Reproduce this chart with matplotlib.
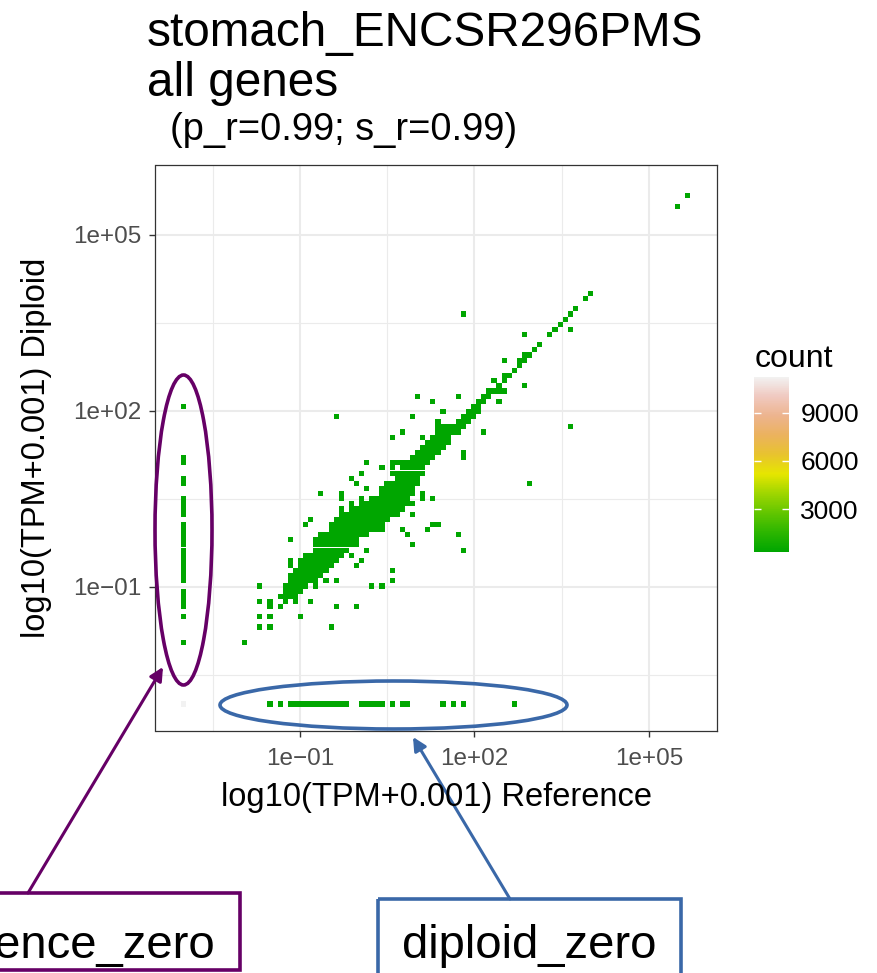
import matplotlib
matplotlib.use('Agg')
import matplotlib.pyplot as plt
import numpy as np
from matplotlib.colors import LinearSegmentedColormap, Normalize
from matplotlib.patches import Ellipse, Rectangle, FancyArrowPatch
from matplotlib.cm import ScalarMappable

plt.rcParams['font.family'] = ['Liberation Sans', 'DejaVu Sans']

# --- data: log10(TPM+0.001) (100 bins) ---
bin_width = 0.0875
zero_level = -3.0

both_zero_count = 11239
band_count = 60
zero_count = 4
single_count = 1

# reference == 0 (x = -3): runs of diploid values (start, end)
ref_zero_runs = [(-1.95, -1.95), (-1.51, -1.51), (-1.34, -1.08), (-0.90, 0.06),
                 (0.24, 0.50), (0.76, 0.85), (1.11, 1.20), (2.08, 2.08)]

# diploid == 0 (y = -3): runs of reference values (start, end)
dip_zero_runs = [(-1.51, -1.51), (-1.34, -1.34), (-1.16, -0.20), (0.06, 0.41),
                 (0.59, 0.59), (0.76, 0.85), (1.46, 1.46), (1.64, 1.64),
                 (1.81, 1.81), (2.69, 2.69)]

# dense diagonal band: (diploid, reference start, reference end)
band_rows = [
    (-1.16, -1.34, -1.08), (-1.08, -1.25, -0.99), (-0.99, -1.25, -0.90),
    (-0.90, -1.16, -0.73), (-0.81, -1.16, -0.64), (-0.73, -1.08, -0.55),
    (-0.64, -0.99, -0.46), (-0.55, -0.99, -0.38), (-0.46, -0.90, -0.29),
    (-0.38, -0.73, -0.20), (-0.29, -0.73, -0.03), (-0.20, -0.73, -0.03),
    (-0.11, -0.64, 0.15), (-0.03, -0.46, 0.41), (0.06, -0.46, 0.41),
    (0.15, -0.38, 0.50), (0.24, -0.20, 0.67), (0.33, -0.11, 0.76),
    (0.41, 0.06, 0.94), (0.50, 0.24, 0.85), (0.59, 0.41, 0.94),
    (0.67, 0.41, 0.94), (0.76, 0.50, 1.03), (0.85, 0.67, 1.03),
    (0.94, 0.67, 1.11), (1.03, 0.76, 1.11), (1.11, 0.59, 1.20),
    (1.20, 0.94, 1.29), (1.29, 1.03, 1.38), (1.38, 1.11, 1.46),
    (1.46, 1.20, 1.55), (1.55, 1.29, 1.55), (1.64, 1.38, 1.73),
    (1.73, 1.38, 1.81), (1.81, 1.73, 1.90), (1.90, 1.81, 1.99),
    (1.99, 1.90, 2.08), (2.08, 1.99, 2.08), (2.16, 2.08, 2.16),
    (2.25, 2.16, 2.25), (2.34, 2.25, 2.43), (2.43, 2.43, 2.43),
    (2.51, 2.51, 2.51), (2.60, 2.51, 2.60), (2.69, 2.69, 2.69),
    (2.78, 2.78, 2.78), (2.86, 2.78, 2.86), (2.95, 2.86, 2.95),
    (3.04, 3.04, 3.04), (3.13, 3.13, 3.13), (3.30, 3.30, 3.30),
    (3.39, 3.39, 3.39), (3.48, 3.48, 3.48), (3.56, 3.56, 3.56),
    (3.65, 3.65, 3.65), (3.74, 3.74, 3.74), (3.91, 3.91, 3.91),
    (4.00, 4.00, 4.00),
]

# scattered single cells
outlier_ref = [-1.95, -1.69, -1.51, -0.46, -1.69, -1.51, -0.99, -1.51, -1.34, -0.38,
               -0.03, -1.69, -1.51, -1.25, -1.08, -0.81, -1.69, -0.73, 0.24, 0.41,
               -0.55, -0.38, 0.59, 0.59, -1.16, -0.03, -1.16, 0.06, -0.11, 0.15,
               1.81, 0.94, -1.16, 0.85, 1.73, 0.76, 1.20, -0.90, 1.29, 1.38,
               -0.81, -0.29, 0.94, -0.29, -0.11, -0.29, 0.06, 1.11, 1.29, -0.64,
               -0.29, 1.11, 0.15, -0.03, 2.95, -0.11, 0.06, 0.59, 0.41, 0.59,
               0.15, 1.81, 1.81, 0.59, 1.11, 0.76, 2.16, 3.65, 1.38, -0.38,
               0.94, 1.46, 1.29, 2.43, 1.03, 1.73, 2.51, 2.86, 2.34, 2.51,
               2.86, 3.65, 1.81, 5.49, 5.66]
outlier_dip = [-1.95, -1.69, -1.69, -1.69, -1.51, -1.51, -1.51, -1.34, -1.34, -1.34,
               -1.34, -1.25, -1.25, -1.25, -1.25, -1.25, -0.99, -0.99, -0.99, -0.99,
               -0.90, -0.90, -0.90, -0.73, -0.64, -0.64, -0.55, -0.55, -0.46, -0.38,
               -0.38, -0.29, -0.20, -0.11, -0.11, -0.03, -0.03, 0.06, 0.06, 0.06,
               0.15, 0.24, 0.24, 0.33, 0.41, 0.50, 0.50, 0.50, 0.50, 0.59,
               0.59, 0.59, 0.67, 0.76, 0.76, 0.85, 0.94, 0.94, 1.03, 1.03,
               1.11, 1.20, 1.29, 1.55, 1.55, 1.64, 1.64, 1.73, 1.81, 1.90,
               1.90, 1.99, 2.16, 2.16, 2.25, 2.25, 2.34, 2.43, 2.51, 2.86,
               3.30, 3.39, 3.65, 5.49, 5.66]

major_breaks = [-1, 2, 5]
major_labels = ['1e\u221201', '1e+02', '1e+05']
minor_breaks = [-2.5, 0.5, 3.5]
legend_breaks = [3000, 6000, 9000]
legend_low = 344

# R terrain.colors(10)
terrain = ['#00A600', '#2DB600', '#63C600', '#A0D600', '#E6E600',
           '#E8C32E', '#EBB25E', '#EDB48E', '#F0C9C0', '#F2F2F2']


def expand(start, end):
    return np.arange(start, end + bin_width / 2, bin_width)


xs, ys, ws = [], [], []
xs.append(zero_level); ys.append(zero_level); ws.append(both_zero_count)
for a, b in ref_zero_runs:
    for v in expand(a, b):
        xs.append(zero_level); ys.append(v); ws.append(zero_count)
for a, b in dip_zero_runs:
    for v in expand(a, b):
        xs.append(v); ys.append(zero_level); ws.append(zero_count)
for yv, a, b in band_rows:
    for v in expand(a, b):
        xs.append(v); ys.append(yv); ws.append(band_count)
for xv, yv in zip(outlier_ref, outlier_dip):
    xs.append(xv); ys.append(yv); ws.append(single_count)

# bin like geom_bin2d (100 bins), then draw each filled bin as a square tile
edges = zero_level - bin_width / 2 + bin_width * np.arange(101)
counts, xe, ye = np.histogram2d(xs, ys, bins=[edges, edges], weights=ws)
xc = (xe[:-1] + xe[1:]) / 2
yc = (ye[:-1] + ye[1:]) / 2
gx, gy = np.meshgrid(xc, yc, indexing='ij')
filled = counts > 0

cmap = LinearSegmentedColormap.from_list('terrain10', terrain)
norm = Normalize(vmin=legend_low, vmax=both_zero_count)

W, H = 878, 973
fig = plt.figure(figsize=(W / 100, H / 100), dpi=100)
ax = fig.add_axes([155.5 / W, (H - 731) / H, 562 / W, 566 / H])

ax.scatter(gx[filled], gy[filled], c=counts[filled], cmap=cmap, norm=norm,
           marker='s', s=13.5, linewidths=0, zorder=3)

ax.set_xlim(-3.48, 6.18)
ax.set_ylim(-3.46, 6.19)
ax.set_xticks(major_breaks)
ax.set_xticklabels(major_labels)
ax.set_yticks(major_breaks)
ax.set_yticklabels(major_labels)
ax.set_xticks(minor_breaks, minor=True)
ax.set_yticks(minor_breaks, minor=True)
ax.grid(True, which='major', color='#EBEBEB', linewidth=1.5, zorder=0)
ax.grid(True, which='minor', color='#EBEBEB', linewidth=0.8, zorder=0)
ax.set_axisbelow(True)
ax.tick_params(which='minor', length=0)
ax.tick_params(which='major', length=4.5, width=1.0, color='#333333',
               labelsize=17.5, labelcolor='#4D4D4D', pad=6)
ax.tick_params(axis='x', which='major', pad=8)
for s in ax.spines.values():
    s.set_color('#333333')
    s.set_linewidth(0.9)

# colour bar legend
cax = fig.add_axes([754 / W, (H - 551.7) / H, 35.3 / W, 175 / H])
cb = fig.colorbar(ScalarMappable(norm=norm, cmap=cmap), cax=cax, ticks=legend_breaks)
cb.outline.set_visible(False)
cax.tick_params(left=True, right=True, labelleft=False, labelright=True,
                direction='in', length=5, width=1, color='white',
                labelsize=19, pad=8)

# overlay in pixel coordinates for titles and annotations
ov = fig.add_axes([0, 0, 1, 1], facecolor='none')
ov.set_xlim(0, W)
ov.set_ylim(H, 0)
ov.axis('off')
ov.set_zorder(5)

ov.text(147, 46, 'stomach_ENCSR296PMS', fontsize=34.4, va='baseline')
ov.text(147, 96, 'all genes', fontsize=34.4, va='baseline')
ov.text(170, 140, '(p_r=0.99; s_r=0.99)', fontsize=27.4, va='baseline')
ov.text(436.5, 806, 'log10(TPM+0.001) Reference', fontsize=23.5, ha='center', va='baseline')
ov.text(37, 448, 'log10(TPM+0.001) Diploid', fontsize=23.5, ha='center', va='center',
        rotation=90)
ov.text(755, 367, 'count', fontsize=23, va='baseline')

purple = '#660066'
blue = '#3A68A8'
ov.add_patch(Ellipse((183.5, 530), 57, 310, fill=False, edgecolor=purple, linewidth=2.6))
ov.add_patch(Ellipse((393.5, 705), 347, 48, fill=False, edgecolor=blue, linewidth=2.6))
ov.add_patch(FancyArrowPatch((28, 893), (163, 667), arrowstyle='-|>', mutation_scale=20,
                             color=purple, linewidth=2.2, shrinkA=0, shrinkB=0))
ov.add_patch(FancyArrowPatch((510, 899), (413, 737), arrowstyle='-|>', mutation_scale=20,
                             color=blue, linewidth=2.2, shrinkA=0, shrinkB=0))
ov.add_patch(Rectangle((-130, 893), 370, 77, fill=False, edgecolor=purple, linewidth=2.6))
ov.add_patch(Rectangle((378, 899), 303, 90, fill=False, edgecolor=blue, linewidth=2.6))
ov.text(57, 958, 'reference_zero', fontsize=34, ha='center', va='baseline')
ov.text(529.5, 958, 'diploid_zero', fontsize=34, ha='center', va='baseline')

fig.savefig('out.png', dpi=100)
